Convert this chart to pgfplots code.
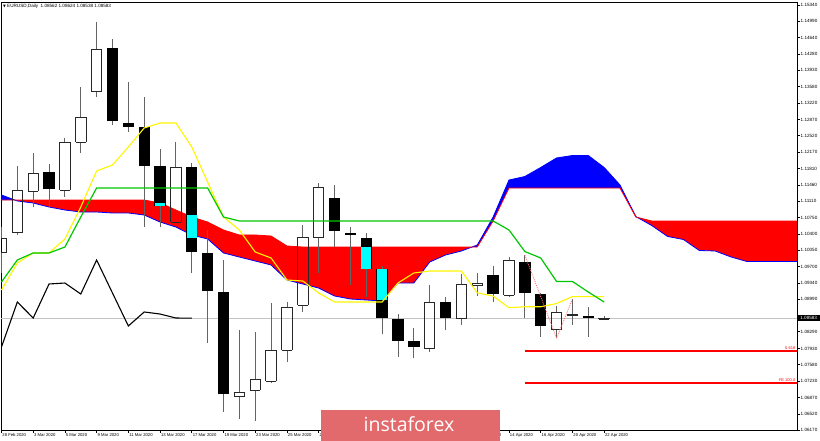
\documentclass[border=0pt]{standalone}
\usepackage{fontspec}
\setmainfont{Liberation Sans}
\newfontfamily\dejavu{DejaVu Sans}
\newfontfamily\wmfont{Open Sans}
\usepackage{pgfplots}
\usepackage{pgfplotstable}
\pgfplotsset{compat=1.18}

\definecolor{kijun}{RGB}{0,200,0}
\definecolor{tenkan}{RGB}{255,245,0}
\definecolor{wm}{RGB}{226,106,108}
\definecolor{wick}{RGB}{100,100,100}
\definecolor{outl}{RGB}{40,40,40}
\definecolor{pline}{RGB}{195,195,195}
\definecolor{fibdot}{RGB}{255,110,110}
\definecolor{aqua}{RGB}{0,255,255}
\definecolor{kblue}{RGB}{0,0,255}
\definecolor{kred}{RGB}{255,0,0}

\pgfplotstableread{
i O H L C
0 1.10011 1.10551 1.09558 1.10313
1 1.10443 1.11866 1.10378 1.11349
2 1.11327 1.12147 1.10982 1.11716
4 1.11349 1.12470 1.11198 1.12384
5 1.12384 1.13571 1.12147 1.12924
6 1.13485 1.14973 1.13355 1.14391
11 1.10658 1.12384 1.10637 1.11845
15 1.06904 1.08328 1.06408 1.06991
16 1.07034 1.08285 1.06365 1.07271
17 1.07228 1.08911 1.07185 1.07897
18 1.07897 1.08932 1.07638 1.08825
19 1.08868 1.10594 1.08717 1.10335
20 1.10335 1.11500 1.09558 1.11414
27 1.07940 1.09299 1.07854 1.08932
29 1.08587 1.09537 1.08436 1.09321
30 1.09299 1.09558 1.09062 1.09342
32 1.09083 1.09903 1.09040 1.09838
35 1.08350 1.08846 1.08150 1.08717
36 1.08651 1.08997 1.08436 1.08673
38 1.08562 1.08624 1.08538 1.08583
}\bulls

\pgfplotstableread{
i O H L C
3 1.11737 1.11910 1.10982 1.11370
7 1.14412 1.14607 1.12751 1.12837
8 1.12794 1.13679 1.12600 1.12708
9 1.12708 1.13355 1.10551 1.11866
10 1.11866 1.12233 1.10551 1.11004
12 1.11845 1.11931 1.09558 1.10011
13 1.09990 1.10486 1.08048 1.09170
14 1.09148 1.09839 1.06559 1.06947
21 1.11176 1.11457 1.10119 1.10464
22 1.10421 1.10551 1.09299 1.10378
23 1.10313 1.10421 1.09040 1.09644
24 1.09644 1.09709 1.08242 1.08587
25 1.08566 1.08673 1.07746 1.08091
26 1.08091 1.08371 1.07724 1.07962
28 1.08932 1.09040 1.08328 1.08587
31 1.09515 1.09709 1.08933 1.09105
33 1.09795 1.09946 1.08587 1.09126
34 1.09105 1.09126 1.08178 1.08415
37 1.08630 1.08824 1.08178 1.08587
}\bears

\pgfplotstableread{
i lo hi
10 1.11004 1.11068
12 1.10320 1.10800
23 1.09644 1.10110
24 1.08965 1.09644
}\cyans

\pgfplotstableread{
i A B
0 1.11241 1.11133
1 1.11112 1.11133
2 1.11068 1.11133
3 1.10982 1.11133
4 1.10917 1.11133
5 1.10874 1.11133
6 1.10874 1.11133
7 1.10853 1.11133
8 1.10853 1.11133
9 1.10809 1.11133
10 1.10658 1.11068
11 1.10550 1.10917
12 1.10378 1.10766
13 1.10292 1.10658
14 1.09990 1.10486
15 1.09903 1.10378
16 1.09817 1.10378
17 1.09731 1.10356
18 1.09407 1.10141
19 1.09321 1.10119
20 1.09234 1.10119
21 1.09062 1.10119
22 1.08997 1.10119
23 1.08976 1.10119
24 1.08954 1.10119
25 1.09342 1.10119
26 1.09342 1.10119
27 1.09795 1.10119
28 1.09947 1.10119
29 1.10033 1.10119
30 1.10162 1.10119
31 1.10766 1.10680
32 1.11564 1.11390
33 1.11640 1.11390
34 1.11835 1.11390
35 1.12040 1.11390
36 1.12093 1.11390
37 1.12093 1.11390
38 1.11835 1.11390
39 1.11457 1.11390
40 1.10775 1.10766
41 1.10583 1.10680
42 1.10346 1.10680
43 1.10281 1.10680
44 1.10044 1.10680
45 1.10033 1.10680
46 1.09904 1.10680
47 1.09806 1.10680
48 1.09806 1.10680
49 1.09806 1.10680
50 1.09806 1.10680
51 1.09806 1.10680
}\cloud

\pgfplotstableread{
i T K
0 1.09191 1.09364
1 1.09774 1.09839
2 1.09990 1.09990
3 1.09990 1.09990
4 1.10292 1.10119
5 1.10982 1.10766
6 1.11759 1.11392
7 1.11888 1.11392
8 1.12277 1.11392
9 1.12687 1.11392
10 1.12794 1.11392
11 1.12794 1.11392
12 1.12277 1.11392
13 1.11521 1.11392
14 1.10766 1.10766
15 1.10486 1.10680
16 1.10011 1.10680
17 1.09882 1.10680
18 1.09407 1.10680
19 1.09385 1.10680
20 1.09127 1.10680
21 1.08932 1.10680
22 1.08932 1.10680
23 1.08932 1.10680
24 1.08932 1.10680
25 1.09343 1.10680
26 1.09558 1.10680
27 1.09601 1.10680
28 1.09601 1.10680
29 1.09601 1.10680
30 1.09130 1.10680
31 1.09060 1.10680
32 1.08810 1.10486
33 1.08830 1.10022
34 1.08830 1.09882
35 1.08900 1.09375
36 1.09048 1.09375
37 1.09048 1.09148
38 1.09048 1.08932
}\tk

\pgfplotstableread{
i C
0 1.07962
1 1.08932
2 1.08587
3 1.09321
4 1.09342
5 1.09105
6 1.09838
7 1.09126
8 1.08415
9 1.08717
10 1.08673
11 1.08587
12 1.08583
}\chikou

\pgfplotsset{
  ebar/.style n args={3}{draw=none, forget plot,
    error bars/.cd, #1, error mark=none,
    error bar style={draw=#2, line width=#3}},
}

\begin{document}
\begin{tikzpicture}
\path[use as bounding box] (0,0) rectangle (820pt,441pt);
\begin{axis}[
  at={(1pt,11pt)}, anchor=south west, scale only axis,
  width=796pt, height=428pt,
  xmin=-0.03, xmax=50.16, ymin=1.06171, ymax=1.15405,
  axis line style={black, line width=0.8pt},
  tick align=outside, major tick length=3pt,
  tick style={black, line width=0.6pt},
  xtick pos=lower, ytick pos=right, yticklabel pos=right,
  xtick={0,2,...,38},
  xticklabels={28 Feb 2020,3 Mar 2020,5 Mar 2020,9 Mar 2020,11 Mar 2020,13 Mar 2020,17 Mar 2020,19 Mar 2020,23 Mar 2020,25 Mar 2020,27 Mar 2020,{},{},{},{},10 Apr 2020,14 Apr 2020,16 Apr 2020,20 Apr 2020,22 Apr 2020},
  xticklabel style={font=\fontsize{4.2}{5}\selectfont, anchor=north west, inner sep=0.5pt, xshift=0.3pt},
  ytick={1.06170,1.06520,1.06870,1.07230,1.07580,1.07930,1.08290,1.08640,1.08990,1.09340,1.09700,1.10050,1.10400,1.10750,1.11110,1.11460,1.11810,1.12170,1.12520,1.12870,1.13220,1.13580,1.13930,1.14280,1.14640,1.14990,1.15340},
  yticklabels={1.06170,1.06520,1.06870,1.07230,1.07580,1.07930,1.08290,{},1.08990,1.09340,1.09700,1.10050,1.10400,1.10750,1.11110,1.11460,1.11810,1.12170,1.12520,1.12870,1.13220,1.13580,1.13930,1.14280,1.14640,1.14990,1.15340},
  yticklabel style={font=\fontsize{4.6}{5}\selectfont, anchor=west, inner sep=0.5pt},
]
% cloud (Senkou A above B: blue, B above A: red)
\addplot[fill=kblue, draw=none] coordinates {(-0.1,1.11254) (0,1.11241) (0.837,1.11133) (0,1.11133) (-0.1,1.11133)};
\addplot[fill=kred, draw=none] coordinates {(0.837,1.11133) (1,1.11133) (2,1.11133) (3,1.11133) (4,1.11133) (5,1.11133) (6,1.11133) (7,1.11133) (8,1.11133) (9,1.11133) (10,1.11068) (11,1.10917) (12,1.10766) (13,1.10658) (14,1.10486) (15,1.10378) (16,1.10378) (17,1.10356) (18,1.10141) (19,1.10119) (20,1.10119) (21,1.10119) (22,1.10119) (23,1.10119) (24,1.10119) (25,1.10119) (26,1.10119) (27,1.10119) (28,1.10119) (29,1.10119) (29.667,1.10119) (29,1.10033) (28,1.09947) (27,1.09795) (26,1.09342) (25,1.09342) (24,1.08954) (23,1.08976) (22,1.08997) (21,1.09062) (20,1.09234) (19,1.09321) (18,1.09407) (17,1.09731) (16,1.09817) (15,1.09903) (14,1.09990) (13,1.10292) (12,1.10378) (11,1.10550) (10,1.10658) (9,1.10809) (8,1.10853) (7,1.10853) (6,1.10874) (5,1.10874) (4,1.10917) (3,1.10982) (2,1.11068) (1,1.11112)};
\addplot[fill=kblue, draw=none] coordinates {(29.667,1.10119) (30,1.10162) (31,1.10766) (32,1.11564) (33,1.11640) (34,1.11835) (35,1.12040) (36,1.12093) (37,1.12093) (38,1.11835) (39,1.11457) (40,1.10775) (40.085,1.10759) (40,1.10766) (39,1.11390) (38,1.11390) (37,1.11390) (36,1.11390) (35,1.11390) (34,1.11390) (33,1.11390) (32,1.11390) (31,1.10680) (30,1.10119)};
\addplot[fill=kred, draw=none] coordinates {(40.085,1.10759) (41,1.10680) (42,1.10680) (43,1.10680) (44,1.10680) (45,1.10680) (46,1.10680) (47,1.10680) (48,1.10680) (49,1.10680) (50,1.10680) (51,1.10680) (51,1.09806) (50,1.09806) (49,1.09806) (48,1.09806) (47,1.09806) (46,1.09904) (45,1.10033) (44,1.10044) (43,1.10281) (42,1.10346) (41,1.10583)};
\addplot[kblue, line width=0.8pt] table[x=i, y=A] {\cloud};
\addplot[kred, line width=0.8pt] table[x=i, y=B] {\cloud};
% current price line
\addplot[pline, line width=0.7pt] coordinates {(-1,1.08583) (52,1.08583)};
% bearish candles: wick then filled body
\addplot[ebar={y dir=plus, y explicit}{wick}{0.9pt}] table[x=i, y=L, y error expr=\thisrow{H}-\thisrow{L}] {\bears};
\addplot[ebar={y dir=plus, y explicit}{black}{11.4pt}] table[x=i, y=C, y error expr=\thisrow{O}-\thisrow{C}] {\bears};
\addplot[ebar={y dir=plus, y explicit}{aqua}{9.6pt}] table[x=i, y=lo, y error expr=\thisrow{hi}-\thisrow{lo}] {\cyans};
% bullish candles: wicks and hollow body
\addplot[ebar={y dir=plus, y explicit}{wick}{0.9pt}] table[x=i, y=C, y error expr=\thisrow{H}-\thisrow{C}] {\bulls};
\addplot[ebar={y dir=plus, y explicit}{wick}{0.9pt}] table[x=i, y=L, y error expr=\thisrow{O}-\thisrow{L}] {\bulls};
\addplot[ebar={x dir=both, x fixed=0.33}{outl}{0.9pt}] table[x=i, y=O] {\bulls};
\addplot[ebar={x dir=both, x fixed=0.33}{outl}{0.9pt}] table[x=i, y=C] {\bulls};
\addplot[ebar={y dir=plus, y explicit}{outl}{0.9pt}] table[x expr=\thisrow{i}-0.33, y=O, y error expr=\thisrow{C}-\thisrow{O}] {\bulls};
\addplot[ebar={y dir=plus, y explicit}{outl}{0.9pt}] table[x expr=\thisrow{i}+0.33, y=O, y error expr=\thisrow{C}-\thisrow{O}] {\bulls};
% ichimoku lines
\addplot[tenkan, line width=1.1pt] table[x=i, y=T] {\tk};
\addplot[kijun, line width=1.2pt] table[x=i, y=K] {\tk};
\addplot[black, line width=1.1pt] table[x=i, y=C] {\chikou};
% fibonacci expansion
\addplot[fibdot, line width=0.8pt, dash pattern=on 1pt off 1pt] coordinates {(33,1.09946) (35,1.08150) (36,1.08997)};
\addplot[kred, line width=1.6pt] coordinates {(33.0,1.07870) (52,1.07870)};
\addplot[kred, line width=1.6pt] coordinates {(33.0,1.07180) (52,1.07180)};
\coordinate (fa) at (axis cs:50.1,1.07880);
\coordinate (fb) at (axis cs:50.1,1.07190);
\coordinate (pb) at (axis cs:50.16,1.08583);
\end{axis}
\node[anchor=south east, text=kred, inner sep=0.6pt, font=\fontsize{4}{4.5}\selectfont] at (fa) {0.618};
\node[anchor=south east, text=kred, inner sep=0.6pt, font=\fontsize{4}{4.5}\selectfont] at (fb) {FE 100.0};
\node[anchor=west, fill=black, text=white, inner xsep=1.2pt, inner ysep=1.2pt, minimum width=23pt, font=\fontsize{4.6}{5}\selectfont] at (pb) {1.08583};
% title
\node[anchor=west, inner sep=0, font=\fontsize{4.6}{5}\selectfont] at (3pt,435pt) {{\dejavu\fontsize{3.6}{4}\selectfont ▼}\ EURUSD,Daily\ \ 1.08562 1.08624 1.08538 1.08583};
% watermark
\fill[wm] (321pt,0pt) rectangle (500pt,31pt);
\node[anchor=base, text=white, inner sep=0, font=\wmfont\fontsize{19.5}{20}\selectfont] at (409pt,9pt) {instaforex};
\end{tikzpicture}
\end{document}
